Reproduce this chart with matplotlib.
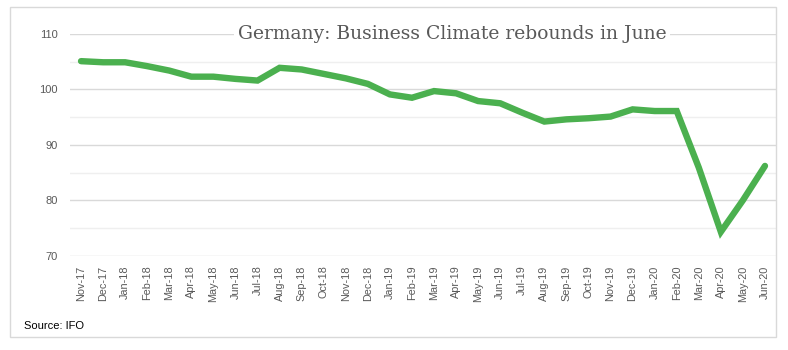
import matplotlib.pyplot as plt
from matplotlib.patches import Rectangle

months = ["Nov-17", "Dec-17", "Jan-18", "Feb-18", "Mar-18", "Apr-18", "May-18", "Jun-18",
          "Jul-18", "Aug-18", "Sep-18", "Oct-18", "Nov-18", "Dec-18", "Jan-19", "Feb-19",
          "Mar-19", "Apr-19", "May-19", "Jun-19", "Jul-19", "Aug-19", "Sep-19", "Oct-19",
          "Nov-19", "Dec-19", "Jan-20", "Feb-20", "Mar-20", "Apr-20", "May-20", "Jun-20"]
climate = [105.1, 104.9, 104.9, 104.2, 103.4, 102.3, 102.3, 101.9,
           101.6, 103.9, 103.6, 102.8, 102.0, 101.0, 99.1, 98.5,
           99.7, 99.3, 97.9, 97.5, 95.8, 94.2, 94.6, 94.8,
           95.1, 96.4, 96.1, 96.1, 85.9, 74.3, 80.0, 86.2]
yticks = [70, 80, 90, 100, 110]

W, H = 788, 350
fig = plt.figure(figsize=(W / 100, H / 100), dpi=100)
fig.patch.set_facecolor("white")

# outer border
fig.patches.append(Rectangle((10 / W, 1 - 337 / H), 766 / W, 330 / H,
                             transform=fig.transFigure, fill=False,
                             edgecolor="#d9d9d9", lw=1))

ax = fig.add_axes([70 / W, 1 - 255.7 / H, 706 / W, (255.7 - 34) / H])
x = list(range(len(months)))
ax.plot(x, climate, color="#4bb04f", lw=4.6, solid_joinstyle="miter",
        solid_capstyle="round", zorder=3)

ax.set_xlim(-0.5, len(months) - 0.5)
ax.set_ylim(70, 110)
ax.set_yticks(yticks)
ax.set_yticks([75, 85, 95, 105], minor=True)
ax.grid(axis="y", which="major", color="#d9d9d9", lw=1)
ax.grid(axis="y", which="minor", color="#efefef", lw=1)
ax.set_xticks(x)
ax.set_xticklabels(months, rotation=90, fontsize=7.8, color="#595959",
                   family="Liberation Sans")
for lab in ax.get_yticklabels():
    lab.set_fontsize(8)
    lab.set_color("#595959")
    lab.set_family("Liberation Sans")
ax.tick_params(axis="both", which="both", length=0, pad=7)
ax.tick_params(axis="y", pad=9)
for s in ax.spines.values():
    s.set_visible(False)

fig.text(452 / W, 1 - 34 / H, "Germany: Business Climate rebounds in June",
         ha="center", va="center", fontsize=13.5, color="#595959",
         family="DejaVu Serif",
         bbox=dict(facecolor="white", edgecolor="none", pad=3))

fig.text(24 / W, 1 - 326 / H, "Source: IFO", ha="left", va="center",
         fontsize=8, color="black", family="Liberation Sans")

fig.savefig("out.png", dpi=100)
